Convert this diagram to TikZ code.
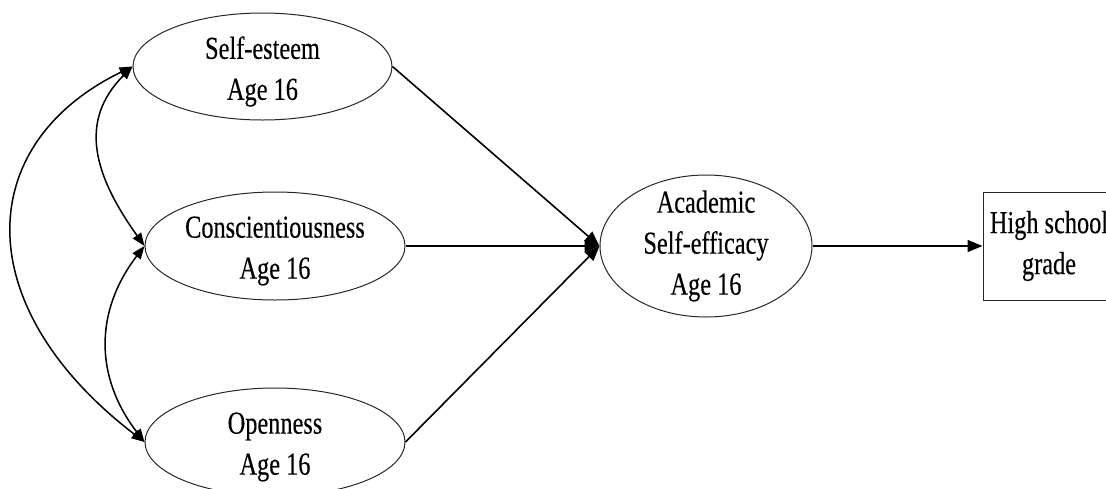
\documentclass[tikz,border=0pt]{standalone}
\usepackage{fontspec}
\setmainfont[FakeStretch=0.76, FakeBold=0.3]{Liberation Serif}
\usetikzlibrary{shapes.geometric,arrows.meta}

\tikzset{
  txt/.style={align=center, font=\fontsize{32}{41}\selectfont, inner sep=0pt},
  latent/.style={ellipse, draw=black!85, line width=1pt, inner sep=0pt},
  observed/.style={rectangle, draw=black!85, line width=1pt, inner sep=0pt,
                   minimum width=132pt, minimum height=108pt, txt},
  path/.style={line width=1.6pt, -{Triangle[length=15pt,width=12pt]}},
  cov/.style={line width=1.5pt, {Triangle[length=13pt,width=10pt]}-{Triangle[length=13pt,width=10pt]}}
}

\begin{document}
\begin{tikzpicture}[x=1pt, y=-1pt]
  \useasboundingbox (0,0) rectangle (1106,488);

  % exogenous traits
  \node[latent, minimum width=259pt, minimum height=107pt,
        label={[txt, yshift=-5pt]center:Self-esteem\\Age 16}] (se) at (262.5,66.5) {};
  \node[latent, minimum width=260pt, minimum height=108pt,
        label={[txt, yshift=-5pt]center:Conscientiousness\\Age 16}] (co) at (275,246) {};
  \node[latent, minimum width=260pt, minimum height=108pt,
        label={[txt, yshift=-5pt]center:Openness\\Age 16}] (op) at (275,442) {};

  % mediator and outcome
  \node[latent, minimum width=212pt, minimum height=142pt,
        label={[txt]center:Academic\\Self-efficacy\\Age 16}] (ac) at (706,246) {};
  \node[observed] (hs) at (1049,246) {High school\\grade};

  % directed paths
  \draw[path] (se.east) -- (ac.west);
  \draw[path, line width=2.2pt] (co.east) -- (ac.west);
  \draw[path] (op.east) -- (ac.west);
  \draw[path] (ac.east) -- (hs.west);

  % correlations among the traits
  \draw[cov] (se.west) .. controls +(-160,78) and +(-176,-135) .. (op.west);
  \draw[cov] (se.west) .. controls +(-55,55) and +(-50,-70) .. (co.west);
  \draw[cov] (co.west) .. controls +(-50,65) and +(-50,-65) .. (op.west);
\end{tikzpicture}
\end{document}
